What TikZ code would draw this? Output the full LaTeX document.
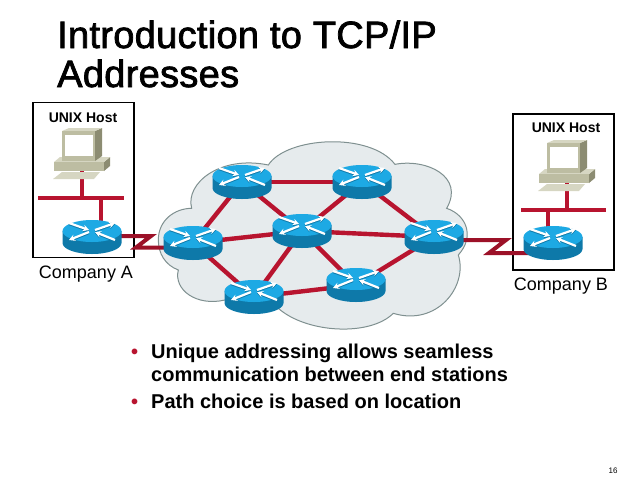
\documentclass[tikz,border=0pt]{standalone}
\usepackage{fontspec}
\setmainfont{Liberation Sans}
\newfontfamily\titlefont[LetterSpace=0.8,FakeBold=2]{Liberation Sans}
\usepackage{tikz}
\usetikzlibrary{calc,positioning,arrows.meta}

\definecolor{rtop}{HTML}{1DA9E4}
\definecolor{rbody}{HTML}{0E79A9}
\definecolor{lnk}{HTML}{B8142F}
\definecolor{cld}{HTML}{E6EBED}
\definecolor{cldline}{HTML}{7F9090}
\definecolor{pcface}{HTML}{BDBDA2}
\definecolor{pcside}{HTML}{8C8C72}
\definecolor{pctop}{HTML}{D6D6C2}

\tikzset{
    spot/.style={inner sep=0pt,minimum width=59pt,minimum height=33pt},
    link/.style={lnk,line width=4.4pt},
    serial/.style={lnk!85!black,line width=4pt,miter limit=10},
    lan/.style={lnk,line width=4.8pt},
    sitebox/.style={draw,line width=1.5pt},
    linetext/.style={anchor=base west,inner sep=0pt,font=\fontsize{20}{23}\selectfont\bfseries},
    titletext/.style={anchor=base west,inner sep=0pt,font=\titlefont\fontsize{38}{40}\selectfont},
    hosttext/.style={font=\fontsize{14}{16}\selectfont\bfseries},
    sitetext/.style={font=\fontsize{18}{20}\selectfont},
    router/.pic={
        \fill [rbody] (-29.5,-6) -- (-29.5,6) arc[start angle=180,end angle=0,x radius=29.5,y radius=11]
            -- (29.5,-6) -- cycle;
        \fill [rtop] (0,-6) ellipse[x radius=29.5,y radius=11];
        \foreach \s/\t/\u/\v in {-23/-14/-3/-7,23/3/3/-5,-3/-5/-23/3,3/-7/23/-14} {
            \draw [rbody,line width=2.2pt,-{Stealth[length=6pt,width=6.5pt]}]
                (\s,\t+1) -- (\u,\v+1);
            \draw [white,line width=2.2pt,-{Stealth[length=6pt,width=6.5pt]}]
                (\s,\t) -- (\u,\v);
        }
    },
    hostpc/.pic={
        % base
        \fill [pcside] (22,9) -- (28,4) -- (28,13) -- (22,18) -- cycle;
        \fill [pctop] (-28,9) -- (-22,4) -- (28,4) -- (22,9) -- cycle;
        \fill [pcface] (-28,9) rectangle (22,18);
        % monitor
        \fill [pcside] (13,-22) -- (20,-25) -- (20,3) -- (13,8) -- cycle;
        \fill [pctop] (-20,-22) -- (-13,-25) -- (20,-25) -- (13,-22) -- cycle;
        \fill [pcface] (-20,-22) rectangle (13,8);
        \fill [white] (-17,-18) rectangle (11,3);
        % keyboard
        \fill [pctop] (-29,26) -- (-20,19) -- (18,19) -- (12,26) -- cycle;
    }
}

\begin{document}
\begin{tikzpicture}[x=1pt,y=-1pt]
    \useasboundingbox (0,0) rectangle (640,480);

    % cloud
    \begin{scope}[shift={(150,130)},x=0.3333pt,y=-0.3333pt]
        \filldraw [fill=cld,draw=cldline,line width=1pt]
            (25,330) .. controls (25,270) and (75,235) .. (125,235)
            .. controls (105,160) and (210,75) .. (355,105)
            .. controls (410,20) and (660,5) .. (735,103)
            .. controls (830,85) and (945,140) .. (890,235)
            .. controls (950,255) and (975,320) .. (925,375)
            .. controls (955,470) and (860,590) .. (730,550)
            .. controls (660,620) and (470,610) .. (385,535)
            .. controls (330,560) and (270,520) .. (225,510)
            .. controls (140,530) and (70,480) .. (85,420)
            .. controls (45,405) and (25,370) .. cycle;
    \end{scope}

    % routers
    \node (r1) [spot] at (242,182) {};
    \node (r2) [spot] at (362,182) {};
    \node (r3) [spot] at (302,231) {};
    \node (r4) [spot] at (434,237) {};
    \node (r5) [spot] at (193,243) {};
    \node (r6) [spot] at (254,297) {};
    \node (r7) [spot] at (356,285) {};
    \node (rA) [spot] at (92,237) {};
    \node (rB) [spot] at (553,243) {};

    % company boxes
    \node (boxA) [sitebox,minimum width=101pt,minimum height=155pt] at (83.5,180) {};
    \node (boxB) [sitebox,minimum width=101pt,minimum height=156pt] at (563.5,192) {};

    % links
    \foreach \a/\b in {r1/r2,r1/r5,r1/r3,r2/r3,r2/r4,r3/r4,r3/r5,r3/r6,r3/r7,r4/r7,r5/r6,r6/r7}
        \draw [link] (\a.center) -- (\b.center);

    % serial lines
    \coordinate (zA1) at (151,236);
    \coordinate (zA2) at (136,247.5);
    \coordinate (zB1) at (506,240);
    \coordinate (zB2) at (489,253);
    \draw [serial] (rA.center |- zA1) -- (zA1) -- (zA2) -- (zA2 -| r5.center);
    \draw [serial] (r4.center |- zB1) -- (zB1) -- (zB2) -- (zB2 -| rB.center);

    % lan segments
    \node (hostA) [inner sep=0pt] at (82,153) {};
    \node (hostB) [inner sep=0pt] at (567,165) {};
    \coordinate (lanAl) at (38,198);
    \coordinate (lanAr) at (124,198);
    \coordinate (lanBl) at (521,210);
    \coordinate (lanBr) at (606,210);
    \coordinate (dropA) at (101,198);
    \coordinate (dropB) at (548,210);
    \draw [lan] (lanAl) -- (lanAr);
    \draw [lan] (lanBl) -- (lanBr);
    \draw [lan] (hostA.center) -- (hostA.center |- lanAl);
    \draw [lan] (hostB.center) -- (hostB.center |- lanBl);
    \draw [lan] (dropA) -- (dropA |- rA.center);
    \draw [lan] (dropB) -- (dropB |- rB.center);

    \foreach \n in {r1,r2,r3,r4,r5,r6,r7,rA,rB}
        \pic at (\n) {router};
    \pic at (hostA) {hostpc};
    \pic at (hostB) {hostpc};

    % text
    \node (title1) [titletext] at (57,48) {Introduction to TCP/IP};
    \node (title2) [titletext] at (57,87) {Addresses};
    \node (hostlabA) [hosttext] at (83,118) {UNIX Host};
    \node (hostlabB) [hosttext] at (566,128) {UNIX Host};
    \node (compA) [sitetext] at (86,274) {Company A};
    \node (compB) [sitetext] at (561,286) {Company B};
    \node (bul1) [linetext,lnk] at (131,358) {•};
    \node (txt1) [linetext] at (151,358) {Unique addressing allows seamless};
    \node (txt2) [linetext] at (151,381) {communication between end stations};
    \node (bul2) [linetext,lnk] at (131,408) {•};
    \node (txt3) [linetext] at (151,408) {Path choice is based on location};
    \node (page) [font=\fontsize{8}{9}\selectfont] at (613,471) {16};
\end{tikzpicture}
\end{document}
